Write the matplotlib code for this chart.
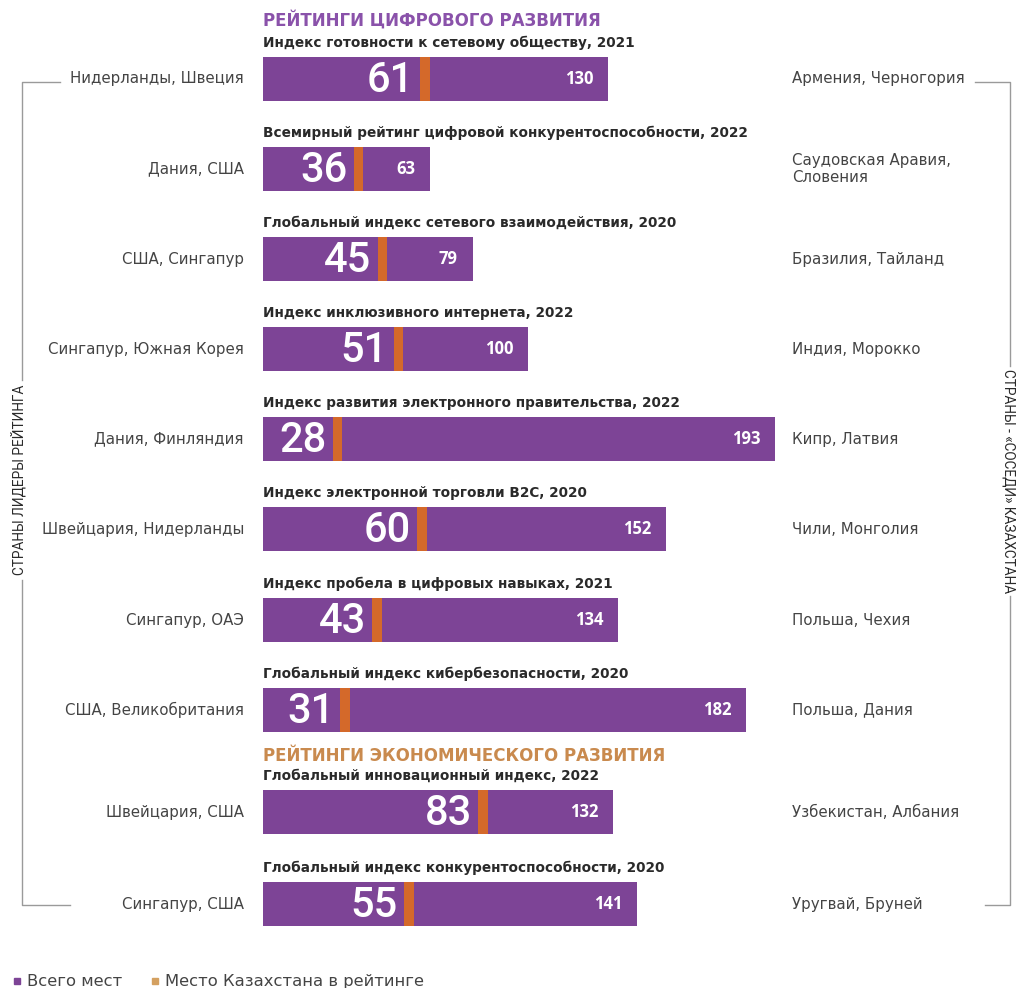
import matplotlib.pyplot as plt
from matplotlib.patches import Rectangle

# ratings data
titles = [
    'Индекс готовности к сетевому обществу, 2021',
    'Всемирный рейтинг цифровой конкурентоспособности, 2022',
    'Глобальный индекс сетевого взаимодействия, 2020',
    'Индекс инклюзивного интернета, 2022',
    'Индекс развития электронного правительства, 2022',
    'Индекс электронной торговли B2C, 2020',
    'Индекс пробела в цифровых навыках, 2021',
    'Глобальный индекс кибербезопасности, 2020',
    'Глобальный инновационный индекс, 2022',
    'Глобальный индекс конкурентоспособности, 2020',
]
total_places = [130, 63, 79, 100, 193, 152, 134, 182, 132, 141]
kz_place = [61, 36, 45, 51, 28, 60, 43, 31, 83, 55]
leaders = ['Нидерланды, Швеция', 'Дания, США', 'США, Сингапур',
           'Сингапур, Южная Корея', 'Дания, Финляндия', 'Швейцария, Нидерланды',
           'Сингапур, ОАЭ', 'США, Великобритания', 'Швейцария, США', 'Сингапур, США']
neighbours = ['Армения, Черногория', 'Саудовская Аравия,\nСловения', 'Бразилия, Тайланд',
              'Индия, Морокко', 'Кипр, Латвия', 'Чили, Монголия', 'Польша, Чехия',
              'Польша, Дания', 'Узбекистан, Албания', 'Уругвай, Бруней']

PURPLE = '#7D4496'
ORANGE = '#D4692A'
HEAD_PURPLE = '#8A52AA'
HEAD_ORANGE = '#C98A4E'
TXT = '#2a2a2a'
SIDE = '#444444'
LINE = '#9a9a9a'

plt.rcParams['font.family'] = ['Open Sans', 'DejaVu Sans']

W, H = 1017, 988
fig = plt.figure(figsize=(W / 100, H / 100), dpi=100)
ax = fig.add_axes([0, 0, 1, 1])
u = 193 / 512          # data units per pixel
x0 = 263               # pixel where the bars start
ax.set_xlim(-x0 * u, (W - x0) * u)
ax.set_ylim(H, 0)
ax.axis('off')


def px(x):
    return (x - x0) * u


rows = [79, 169, 259, 349, 439, 529, 620, 710, 812, 904]
bar_h = 44

ax.barh(rows, total_places, height=bar_h, color=PURPLE, left=0)
ax.barh(rows, [3.6] * len(rows), left=[k - 1.8 for k in kz_place],
        height=bar_h, color=ORANGE)

for y, t, tot, kz, lead, nb in zip(rows, titles, total_places, kz_place, leaders, neighbours):
    ax.text(0, y - bar_h / 2 - 7, t, fontsize=9.8, fontweight='bold', family='DejaVu Sans',
            color=TXT, ha='left', va='bottom')
    ax.text(kz - 1.8 - 2.3, y + 1, str(kz), fontsize=30, family='Roboto',
            fontweight='medium', color='white', ha='right', va='center')
    ax.text(tot - 5.5, y, str(tot), fontsize=12, fontweight='bold', color='white',
            ha='right', va='center')
    ax.text(px(244), y, lead, fontsize=10.8, family='DejaVu Sans', color=SIDE,
            ha='right', va='center')
    ax.text(px(792), y, nb, fontsize=10.8, family='DejaVu Sans', color=SIDE,
            ha='left', va='center', linespacing=1.15)

ax.text(0, 20, 'РЕЙТИНГИ ЦИФРОВОГО РАЗВИТИЯ', fontsize=12, fontweight='bold',
        family='DejaVu Sans', color=HEAD_PURPLE, ha='left', va='center')
ax.text(0, 756, 'РЕЙТИНГИ ЭКОНОМИЧЕСКОГО РАЗВИТИЯ', fontsize=12, fontweight='bold',
        family='DejaVu Sans', color=HEAD_ORANGE, ha='left', va='center')

# brackets
lk = dict(color=LINE, lw=1)
ax.plot([px(60), px(22), px(22)], [82, 82, 380], **lk)
ax.plot([px(22), px(22), px(70)], [580, 905, 905], **lk)
ax.plot([px(975), px(1010), px(1010)], [82, 82, 366], **lk)
ax.plot([px(1010), px(1010), px(985)], [596, 905, 905], **lk)
ax.text(px(19), 480, 'СТРАНЫ ЛИДЕРЫ РЕЙТИНГА', rotation=90, fontsize=9.8,
        family='Roboto', color=TXT, ha='center', va='center')
ax.text(px(1008), 481, 'СТРАНЫ - «СОСЕДИ» КАЗАХСТАНА', rotation=270, fontsize=9.8,
        family='Roboto', color=TXT, ha='center', va='center')

# legend
fig.patches.append(Rectangle((14 / W, 1 - 984 / H), 6 / W, 6 / H,
                             transform=fig.transFigure, color=PURPLE))
fig.text(27 / W, 1 - 981 / H, 'Всего мест', fontsize=11.8, family='DejaVu Sans',
         color=SIDE, va='center')
fig.patches.append(Rectangle((152 / W, 1 - 984 / H), 6 / W, 6 / H,
                             transform=fig.transFigure, color='#D4A060'))
fig.text(165 / W, 1 - 981 / H, 'Место Казахстана в рейтинге', fontsize=11.8,
         family='DejaVu Sans', color=SIDE, va='center')

fig.savefig('out.png', dpi=100, facecolor='white')
